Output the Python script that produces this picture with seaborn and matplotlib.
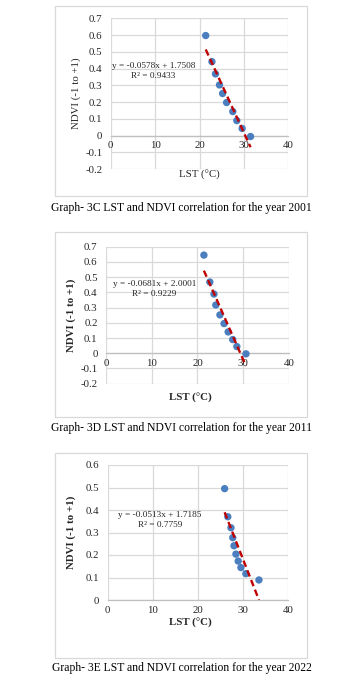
import matplotlib
matplotlib.use("Agg")
import matplotlib.pyplot as plt
import matplotlib.transforms as mtransforms
from matplotlib.patches import Rectangle
import numpy as np
import pandas as pd
import seaborn as sns

# --- data -------------------------------------------------------------
lst_2001 = [21.4, 22.8, 23.6, 24.5, 25.2, 26.1, 27.5, 28.4, 29.6, 31.5]
ndvi_2001 = [0.597, 0.441, 0.368, 0.302, 0.251, 0.197, 0.143, 0.089, 0.042, -0.006]
fit_2001 = (-0.0578, 1.7508, 0.9433)

lst_2011 = [21.4, 22.7, 23.6, 24.0, 24.9, 25.8, 26.7, 27.7, 28.6, 30.6]
ndvi_2011 = [0.645, 0.468, 0.389, 0.317, 0.252, 0.195, 0.140, 0.090, 0.044, -0.004]
fit_2011 = (-0.0681, 2.0001, 0.9229)

lst_2022 = [25.9, 26.6, 27.3, 27.7, 27.97, 28.4, 28.9, 29.5, 30.6, 33.5]
ndvi_2022 = [0.495, 0.370, 0.321, 0.277, 0.241, 0.204, 0.173, 0.144, 0.117, 0.089]
fit_2022 = (-0.0513, 1.7185, 0.7759)

captions = [
    "Graph- 3C LST and NDVI correlation for the year 2001",
    "Graph- 3D LST and NDVI correlation for the year 2011",
    "Graph- 3E LST and NDVI correlation for the year 2022",
]
x_label = "LST (°C)"
y_label = "NDVI (-1 to +1)"

# --- style ------------------------------------------------------------
sns.set_style("white")
plt.rcParams["font.family"] = ["Liberation Serif", "DejaVu Serif"]

W, H = 341, 674
fig = plt.figure(figsize=(W / 100, H / 100), dpi=100)
fig.patch.set_facecolor("white")

# pixel transform measured from the top-left corner of the figure
pix = mtransforms.Affine2D().scale(1 / W, -1 / H).translate(0, 1) + fig.transFigure

GRID = "#d9d9d9"
AXIS = "#bfbfbf"
TXT = "#262626"
BLUE = "#4a7ebf"
RED = "#c00000"

panels = [
    dict(x=lst_2001, y=ndvi_2001, fit=fit_2001, rect=(110.7, 18.3, 288.3, 169.0),
         ylim=(-0.2, 0.7), box=(55.3, 6.0, 307.3, 195.5), cap_y=208.5,
         bold=False, xl=(199.0, 169.5), yl_x=81.0,
         eq=(153.5, 65.7), r2=(153.5, 76.0)),
    dict(x=lst_2011, y=ndvi_2011, fit=fit_2011, rect=(106.0, 246.7, 289.0, 383.7),
         ylim=(-0.2, 0.7), box=(55.3, 231.7, 307.3, 417.3), cap_y=428.5,
         bold=True, xl=(190.5, 393.0), yl_x=76.0,
         eq=(154.5, 284.0), r2=(154.5, 293.5)),
    dict(x=lst_2022, y=ndvi_2022, fit=fit_2022, rect=(107.7, 465.0, 288.3, 600.0),
         ylim=(0.0, 0.6), box=(55.3, 453.0, 307.3, 658.0), cap_y=668.5,
         bold=True, xl=(190.8, 618.0), yl_x=75.5,
         eq=(160.0, 515.0), r2=(160.0, 525.0)),
]


def fmt_tick(v):
    v = round(v, 1)
    if v == 0:
        return "0"
    return f"{v:g}"


for p in panels:
    # chart border
    bx0, by0, bx1, by1 = p["box"]
    border = Rectangle((bx0, by0), bx1 - bx0, by1 - by0, fill=False, lw=0.9,
                       ec=GRID, transform=pix)
    fig.patches.append(border)

    x0, y0, x1, y1 = p["rect"]
    ax = fig.add_axes([x0 / W, 1 - y1 / H, (x1 - x0) / W, (y1 - y0) / H])
    ax.set_facecolor("none")

    df = pd.DataFrame({"LST": p["x"], "NDVI": p["y"]})
    sns.scatterplot(data=df, x="LST", y="NDVI", ax=ax, s=28, color=BLUE,
                    edgecolor="none", zorder=3)

    # linear trend line from the stated regression equation
    slope, intercept, r2 = p["fit"]
    xs = np.array([min(p["x"]), max(p["x"])])
    trend = pd.DataFrame({"LST": xs, "NDVI": slope * xs + intercept})
    sns.lineplot(data=trend, x="LST", y="NDVI", ax=ax, color=RED, lw=1.7,
                 dashes=False, zorder=4)
    ax.lines[-1].set_dashes([2.8, 1.6])

    ax.set_xlim(0, 40)
    ax.set_ylim(*p["ylim"])
    ax.set_xticks([0, 10, 20, 30, 40])
    yt = np.round(np.arange(p["ylim"][0], p["ylim"][1] + 0.001, 0.1), 1)
    ax.set_yticks(yt)
    ax.set_yticklabels([fmt_tick(v) for v in yt])
    ax.grid(True, color=GRID, lw=0.9)
    ax.set_axisbelow(True)
    for s in ("top", "right", "left"):
        ax.spines[s].set_visible(False)
    ax.spines["bottom"].set_position(("data", 0))
    ax.spines["bottom"].set_color(AXIS)
    ax.spines["bottom"].set_linewidth(0.9)
    ax.tick_params(axis="both", length=0, labelsize=7.8, colors=TXT)
    ax.tick_params(axis="x", pad=4.0)
    ax.tick_params(axis="y", pad=6.0)

    weight = "bold" if p["bold"] else "normal"
    ax.set_xlabel(x_label, fontsize=7.8, color=TXT, fontweight=weight)
    ax.set_ylabel(y_label, fontsize=7.8, color=TXT, fontweight=weight)
    ax.xaxis.set_label_coords(p["xl"][0], p["xl"][1], transform=pix)
    ax.yaxis.set_label_coords(p["yl_x"], (y0 + y1) / 2, transform=pix)

    fig.text(p["eq"][0], p["eq"][1], f"y = {slope:.4f}x + {intercept:.4f}",
             transform=pix, ha="center", va="center", fontsize=6.7, color=TXT)
    fig.text(p["r2"][0], p["r2"][1], f"R² = {r2:.4f}",
             transform=pix, ha="center", va="center", fontsize=6.7, color=TXT)

for p, cap in zip(panels, captions):
    fig.text(181.7, p["cap_y"], cap, transform=pix, ha="center", va="center",
             fontsize=8.35, color="black")

fig.savefig("out.png", dpi=100, facecolor="white")
